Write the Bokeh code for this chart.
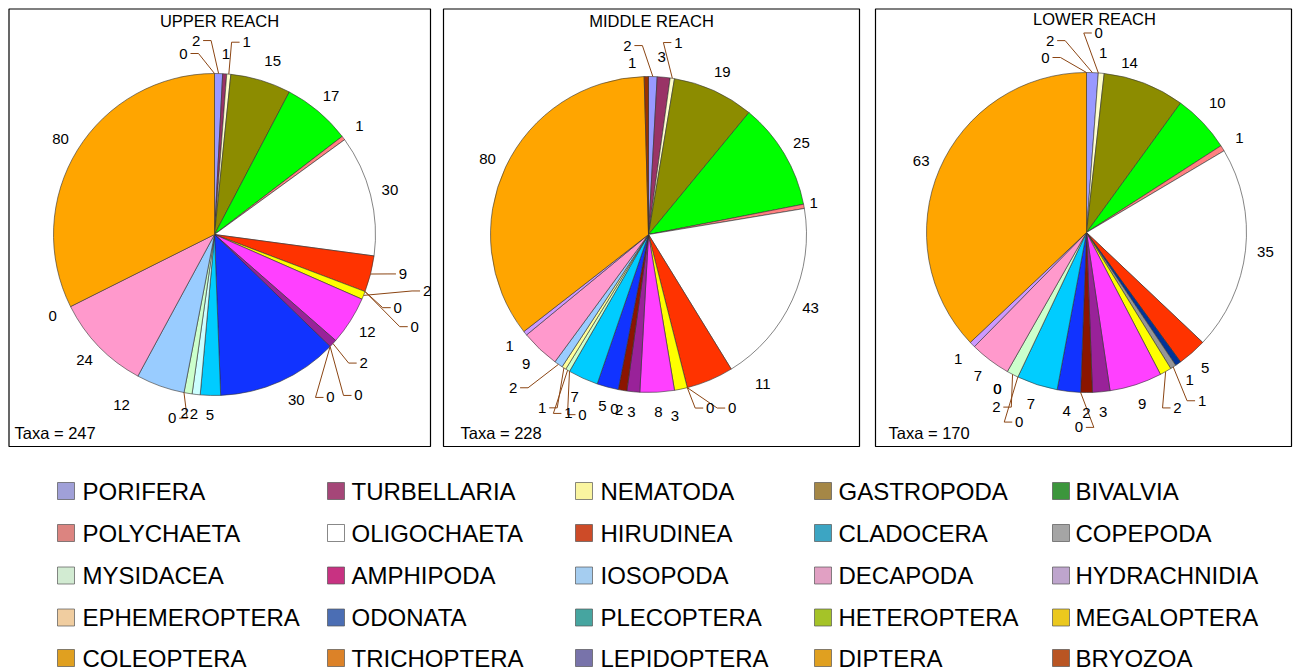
import math
from bokeh.plotting import figure
from bokeh.models import Range1d
from bokeh.core.properties import value
from bokeh.embed import file_html
from bokeh.resources import INLINE

# ---------------- data ----------------
categories = ["PORIFERA", "TURBELLARIA", "NEMATODA", "GASTROPODA", "BIVALVIA",
              "POLYCHAETA", "OLIGOCHAETA", "HIRUDINEA", "CLADOCERA", "COPEPODA",
              "MYSIDACEA", "AMPHIPODA", "IOSOPODA", "DECAPODA", "HYDRACHNIDIA",
              "EPHEMEROPTERA", "ODONATA", "PLECOPTERA", "HETEROPTERA", "MEGALOPTERA",
              "COLEOPTERA", "TRICHOPTERA", "LEPIDOPTERA", "DIPTERA", "BRYOZOA"]
upper_reach = [2, 1, 1, 15, 17, 1, 30, 9, 0, 0, 2, 12, 2, 0, 0, 30, 5, 2, 2, 0, 12, 24, 0, 80, 0]
middle_reach = [2, 3, 1, 19, 25, 1, 43, 11, 0, 0, 3, 8, 3, 2, 0, 5, 7, 0, 1, 1, 2, 9, 1, 80, 1]
lower_reach = [2, 0, 1, 14, 10, 1, 35, 5, 1, 1, 2, 9, 3, 2, 0, 4, 7, 0, 2, 0, 0, 7, 1, 63, 0]
reach_titles = ["UPPER REACH", "MIDDLE REACH", "LOWER REACH"]

# ---------------- styles ----------------
slice_colors = ["#9999FF", "#993366", "#FFFFCC", "#8C8C00", "#00FF00",
                "#FF8080", "#FFFFFF", "#FF3300", "#003399", "#969696",
                "#FFFF00", "#FF40FF", "#992299", "#8B1500", "#C0C0C0",
                "#1133FF", "#00CCFF", "#CCFFFF", "#CCFFCC", "#FFFF99",
                "#99CCFF", "#FF99CC", "#CC99FF", "#FFA500", "#993300"]
legend_colors = ["#A0A0D8", "#A54678", "#FAF5A0", "#A58746", "#3C963C",
                 "#DC8480", "#FFFFFF", "#CD4B28", "#3CA5C3", "#A5A5A5",
                 "#D2EBD2", "#C83282", "#A5CDF0", "#E1A0C3", "#BEA5CD",
                 "#F0CDA0", "#4B6EB4", "#46A5A0", "#A5C328", "#EBC81E",
                 "#E0A020", "#DC8228", "#7873AA", "#E0A020", "#B95523"]

FONT = value("Liberation Sans")
W, H = 1293, 672


def X(px):
    return px


def Y(py):
    return H - py


# layout of each panel (page pixel coordinates)
panels = [
    dict(box=(8.5, 8.5, 430, 446), c=(214, 234), R=161, gap=20, title=(219, 20), taxa=(14, 432),
         nudges={0: (-23, -13, True), 2: (16, -12, True), 3: (6, 0, False), 7: (13, -5, True),
                 8: (14, 9, True), 9: (31, 28, True), 10: (45, -12, True), 12: (16, 6, True),
                 13: (14, 35, True), 14: (-14, 37, True), 15: (8, 0, False), 19: (-8, 6, True),
                 20: (-32, 0, False), 24: (-31, 0, True)}),
    dict(box=(443, 8.5, 859, 446), c=(648, 234), R=158, gap=20, title=(651, 20), taxa=(460, 432),
         nudges={0: (-26, -11, True), 1: (-4, 0, False), 2: (3, -16, True), 5: (-10, 0, False),
                 7: (45, -14, False), 8: (18, 1, True), 9: (40, 1, True), 10: (-10, 7, False),
                 17: (23, 26, True), 18: (11, 26, True), 19: (-11, 23, True), 20: (-34, 7, True),
                 24: (-14, 6, False)}),
    dict(box=(875, 8.5, 1291, 446), c=(1086, 232), R=160, gap=20, title=(1094, 18), taxa=(888, 432),
         nudges={0: (-43, -12, True), 1: (-1, -20, True), 3: (-22, -2, False), 4: (0, -6, False),
                 9: (18, 17, True), 10: (2, 19, True), 14: (-1, 15, True), 17: (10, 27, True),
                 18: (-7, 15, True), 24: (-41, 5, True)}),
]

p = figure(width=W, height=H, output_backend="svg", toolbar_location=None,
           x_range=Range1d(0, W), y_range=Range1d(0, H),
           x_axis_type=None, y_axis_type=None,
           min_border=0, min_border_left=0, min_border_right=0,
           min_border_top=0, min_border_bottom=0)
p.outline_line_color = None
p.grid.visible = False
p.background_fill_color = "white"

for reach_vals, title, pan in zip([upper_reach, middle_reach, lower_reach], reach_titles, panels):
    l, t, r, b = pan["box"]
    p.quad(left=[X(l)], right=[X(r)], top=[Y(t)], bottom=[Y(b)],
           fill_color=None, line_color="black", line_width=1.2)

    cx, cy = pan["c"]
    R = pan["R"]
    total = sum(reach_vals)
    cum = 0
    wx, wy, ws, we, wc = [], [], [], [], []
    lx_, ly_, lt_ = [], [], []
    lead_xs, lead_ys = [], []
    for i, v in enumerate(reach_vals):
        t1 = cum / total * 360.0
        cum += v
        t2 = cum / total * 360.0
        if v > 0:
            wx.append(X(cx))
            wy.append(Y(cy))
            ws.append(math.radians(90 - t2))
            we.append(math.radians(90 - t1))
            wc.append(slice_colors[i])
        mid = math.radians((t1 + t2) / 2)
        rl = R + pan["gap"]
        lx = cx + rl * math.sin(mid)
        ly = cy - rl * math.cos(mid)
        dx, dy, lead = pan["nudges"].get(i, (0, 0, False))
        lx += dx
        ly += dy
        lx_.append(X(lx))
        ly_.append(Y(ly))
        lt_.append(str(v))
        if lead:
            rx = cx + R * math.sin(mid)
            ry = cy - R * math.cos(mid)
            side = 1 if lx >= rx else -1
            ex = lx - side * 7
            elx = ex - side * 8
            lead_xs.append([X(rx), X(elx), X(ex)])
            lead_ys.append([Y(ry), Y(ly), Y(ly)])

    p.wedge(x=wx, y=wy, radius=R, start_angle=ws, end_angle=we, fill_color=wc,
            line_color="#333333", line_width=0.6, direction="anticlock")
    if lead_xs:
        p.multi_line(xs=lead_xs, ys=lead_ys, line_color="#8B4513", line_width=1)
    p.text(x=lx_, y=ly_, text=lt_, text_align="center", text_baseline="middle",
           text_font=FONT, text_font_size="15px", text_color="black")

    tx, ty = pan["title"]
    p.text(x=[X(tx)], y=[Y(ty)], text=[title], text_align="center", text_baseline="middle",
           text_font=FONT, text_font_size="16.5px", text_color="black")
    ax, ay = pan["taxa"]
    p.text(x=[X(ax)], y=[Y(ay)], text=["Taxa = %d" % total], text_align="left",
           text_baseline="middle", text_font=FONT, text_font_size="16.5px", text_color="black")

# ---------------- legend ----------------
sq_left = [57, 327, 575, 814, 1052]
txt_left = [82, 351, 600, 838, 1075]
row_y = [490.5, 532.5, 575, 617, 657.5]
SQ = 17
lg_x, lg_y, lg_t, lg_tx = [], [], [], []
for i, name in enumerate(categories):
    row, col = divmod(i, 5)
    lg_x.append(X(sq_left[col] + SQ / 2))
    lg_y.append(Y(row_y[row]))
    lg_tx.append(X(txt_left[col]))
    lg_t.append(name)
p.rect(x=lg_x, y=lg_y, width=SQ, height=SQ, fill_color=legend_colors,
       line_color="#555555", line_alpha=0.7, line_width=1)
p.text(x=lg_tx, y=lg_y, text=lg_t, text_align="left", text_baseline="middle",
       text_font=FONT, text_font_size="24px", text_color="black")

open("out.html", "w").write(file_html(p, INLINE))
